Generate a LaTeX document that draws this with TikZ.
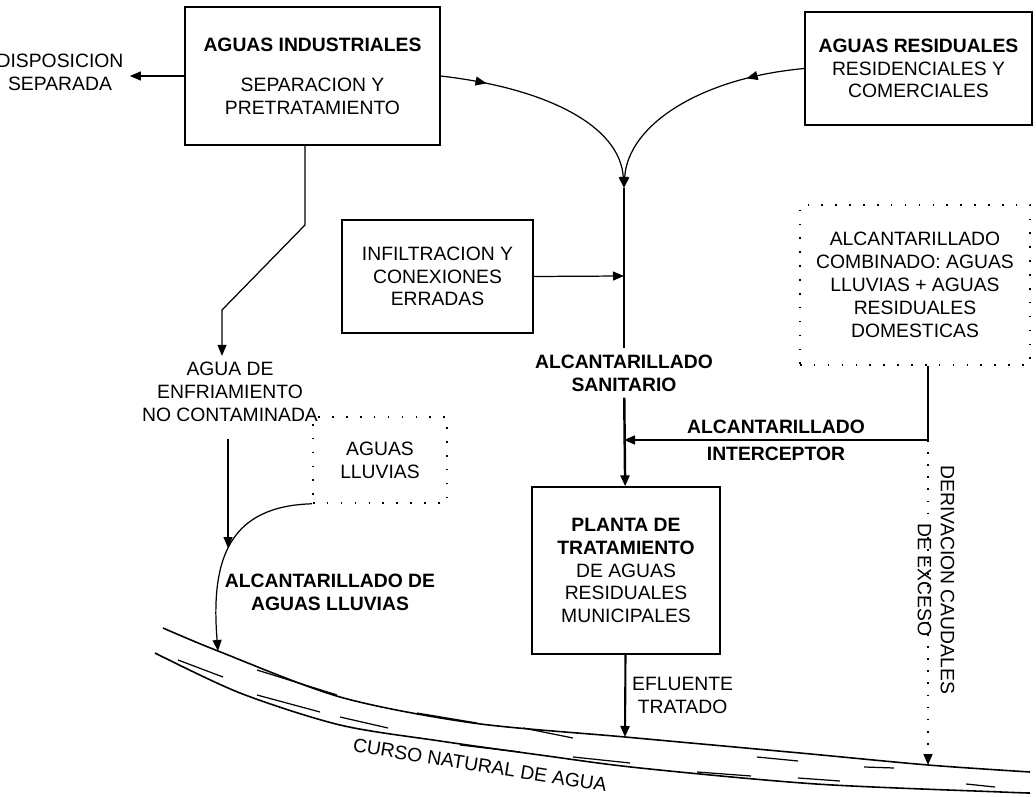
\documentclass[tikz,border=0pt]{standalone}
\usepackage{fontspec}
\setmainfont{Liberation Sans}
\usetikzlibrary{arrows.meta,decorations.markings}
\newcommand{\dfont}{\fontsize{11}{13}\selectfont}
\tikzset{
  box/.style={draw,line width=0.8pt,align=center},
  dbox/.style={draw,line width=0.9pt,dash pattern=on 0.9pt off 7pt,align=center},
  txt/.style={align=center},
  bold/.style={align=center,font=\dfont\bfseries},
  arr/.style={-{Triangle[length=2.2mm,width=1.8mm]}},
  dots/.style={line width=0.9pt,dash pattern=on 0.9pt off 6pt},
  midarr/.style={postaction={decorate},decoration={markings,mark=at position #1 with {\arrow{Triangle[length=2.2mm,width=1.8mm]}}}}
}

\begin{document}
\begin{tikzpicture}[x=0.02cm,y=-0.02cm,line width=0.7,every node/.style={font=\dfont}]
\useasboundingbox (0,0) rectangle (1036,797);
\node[box,minimum width=5.1cm,minimum height=2.76cm] (ind) at (312.5,76) {\textbf{AGUAS INDUSTRIALES}\\[10pt]SEPARACION Y\\PRETRATAMIENTO};
\node[txt] (dis) at (60,72) {DISPOSICION\\SEPARADA};
\node[box,minimum width=4.54cm,minimum height=2.26cm] (res) at (918.5,68.5) {\textbf{AGUAS RESIDUALES}\\RESIDENCIALES Y\\COMERCIALES};
\node[box,minimum width=3.82cm,minimum height=2.26cm] (inf) at (437.5,276.5) {INFILTRACION Y\\CONEXIONES\\ERRADAS};
\node[dbox,minimum width=4.6cm,minimum height=3.2cm] (com) at (915,285) {ALCANTARILLADO\\COMBINADO: AGUAS\\LLUVIAS + AGUAS\\RESIDUALES\\DOMESTICAS};
\node[dbox,minimum width=2.68cm,minimum height=1.72cm] (llu) at (380,460) {AGUAS\\LLUVIAS};
\node[box,minimum width=3.76cm,minimum height=3.34cm] (pta) at (626,570.5) {\textbf{PLANTA DE}\\\textbf{TRATAMIENTO}\\DE AGUAS\\RESIDUALES\\MUNICIPALES};
\node[bold] (san) at (624,373) {ALCANTARILLADO\\SANITARIO};
\node[txt] (enf) at (230,392) {AGUA DE\\ENFRIAMIENTO\\NO CONTAMINADA};
\node[bold] (all) at (330,592) {ALCANTARILLADO DE\\AGUAS LLUVIAS};
\node[txt,rotate=-90] (der) at (936,580) {DERIVACION CAUDALES\\DE EXCESO};
\node[rotate=-9] (cur) at (480,765) {CURSO NATURAL DE AGUA};
\coordinate (j) at (624,188);
\coordinate (m1) at (624,276);
\coordinate (m2) at (624,440);
\coordinate (c1) at (928,440);
\coordinate (k1) at (305,225);
\coordinate (k2) at (222,310);
\coordinate (w1) at (228,548);
\coordinate (rn) at (218,651);
\coordinate (ef) at (625,737);
\coordinate (ex) at (928,765);
\draw[line width=0.9] plot[smooth] coordinates {(163,628) (218,651) (340,697) (473,723) (625,737) (800,753) (928,765) (1030,772)};
\draw[line width=0.9] plot[smooth] coordinates {(155,653) (240,693) (340,725) (440,741) (540,755) (640,768) (816,784) (1001,792) (1030,793)};
\foreach \a/\b/\c/\d in {178/660/223/677,257/670/337/695,257/695/320/712,340/717/388/728,417/713/477/723,460/745/520/752,523/728/573/738,573/757/630/763,697/772/751/776,757/757/798/761,798/778/840/781,864/767/894/768,966/784/995/787}
  \draw (\a,\b)--(\c,\d);
\draw[arr] (ind.west) -- (ind.west -| dis.east);
\draw[arr,midarr=0.2] (ind.east) .. controls (545,88) and (620,125) .. (j);
\draw[arr,midarr=0.25] (res.west) .. controls (700,78) and (628,125) .. (j);
\draw[line width=1.4pt] (j) -- (san);
\draw[arr] (inf.east) -- (m1);
\draw[arr,line width=1.4pt] (san) -- (pta);
\draw[arr,line width=0.9pt] (com.south -| c1) -- (c1) -- (m2) node[bold,midway,above] (i1) {ALCANTARILLADO} node[bold,midway,below] (i2) {INTERCEPTOR};
\draw[dots,arr] (c1) -- (ex);
\draw[arr,line width=1.2pt] (pta) -- (ef) node[txt,midway,right] (eft) {EFLUENTE\\TRATADO};
\draw[arr] (ind.south -| k1) -- (k1) -- (k2) -- (enf.north -| k2);
\draw[arr,shorten <=6pt] (enf.south -| w1) -- (w1);
\draw[arr] (llu.south west) .. controls (232,506) and (210,555) .. (rn);
\end{tikzpicture}
\end{document}
